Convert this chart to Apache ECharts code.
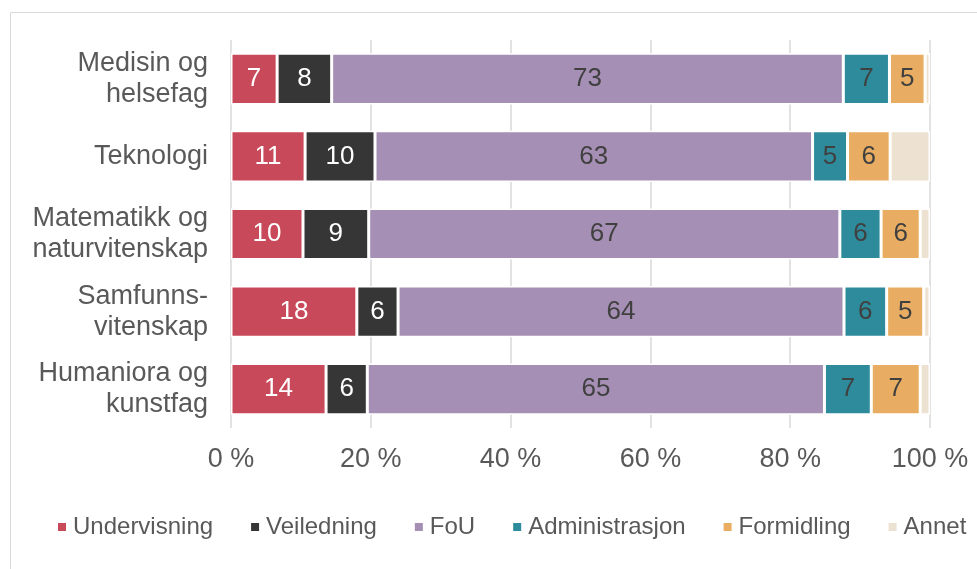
<!DOCTYPE html>
<html>
<head>
<meta charset="utf-8">
<script src="https://cdn.jsdelivr.net/npm/echarts@6/dist/echarts.min.js"></script>
<style>
  html, body { margin: 0; padding: 0; background: #fff; }
  #main { width: 977px; height: 569px; }
</style>
</head>
<body>
<div id="main"></div>
<script>
// fagområder (top to bottom)
const categories = [
  'Medisin og\nhelsefag',
  'Teknologi',
  'Matematikk og\nnaturvitenskap',
  'Samfunns-\nvitenskap',
  'Humaniora og\nkunstfag'
]
// andel av arbeidstid, prosent
const undervisning = [6.6, 10.6, 10.3, 18.0, 13.6]
const veiledning = [7.8, 10.0, 9.4, 5.9, 5.9]
const fou = [73.2, 62.6, 67.4, 63.8, 65.4]
const administrasjon = [6.6, 5.0, 5.9, 6.1, 6.7]
const formidling = [5.1, 6.1, 5.6, 5.3, 7.0]
const annet = [0.7, 5.7, 1.4, 0.9, 1.4]

const seriesNames = ['Undervisning', 'Veiledning', 'FoU', 'Administrasjon', 'Formidling', 'Annet']
const seriesData = [undervisning, veiledning, fou, administrasjon, formidling, annet]
const colors = ['#c84a5a', '#363636', '#a68fb4', '#2e8b9c', '#e8ad62', '#ede1d1']
const labelColors = ['#ffffff', '#ffffff', '#404040', '#404040', '#404040', null]

const font = 'Arial, "Liberation Sans", sans-serif'

const chart = echarts.init(document.getElementById('main'))

const series = seriesNames.map((name, i) => ({
  name: name,
  type: 'bar',
  stack: 'total',
  barCategoryGap: '34%',
  data: seriesData[i],
  itemStyle: {
    color: colors[i],
    borderColor: '#fff',
    borderWidth: 1.5
  },
  label: {
    show: labelColors[i] !== null,
    position: 'inside',
    color: labelColors[i] || '#404040',
    fontFamily: font,
    fontSize: 26,
    formatter: p => Math.round(p.value)
  }
}))

chart.setOption({
  animation: false,
  color: colors,
  graphic: [
    {
      type: 'rect',
      shape: { x: 10.5, y: 12.5, width: 1000, height: 600 },
      style: { fill: 'none', stroke: '#d9d9d9', lineWidth: 1 },
      silent: true
    }
  ],
  grid: {
    left: 231,
    right: 47,
    top: 40,
    bottom: 141
  },
  legend: {
    left: 56,
    top: 515,
    width: 960,
    padding: 0,
    itemWidth: 10,
    itemHeight: 10,
    itemGap: 36,
    icon: 'rect',
    data: seriesNames,
    textStyle: { color: '#595959', fontFamily: font, fontSize: 24, padding: [0, 0, 0, 1] }
  },
  xAxis: {
    type: 'value',
    min: 0,
    max: 100,
    interval: 20,
    axisLine: { show: false },
    axisTick: { show: false },
    splitLine: { lineStyle: { color: '#d9d9d9', width: 1.5 } },
    axisLabel: {
      color: '#595959',
      fontFamily: font,
      fontSize: 27,
      margin: 18,
      formatter: '{value} %'
    }
  },
  yAxis: {
    type: 'category',
    inverse: true,
    data: categories,
    axisLine: { show: false },
    axisTick: { show: false },
    axisLabel: {
      color: '#595959',
      fontFamily: font,
      fontSize: 27,
      lineHeight: 31,
      margin: 23,
      align: 'right'
    }
  },
  series: series
})
</script>
</body>
</html>
